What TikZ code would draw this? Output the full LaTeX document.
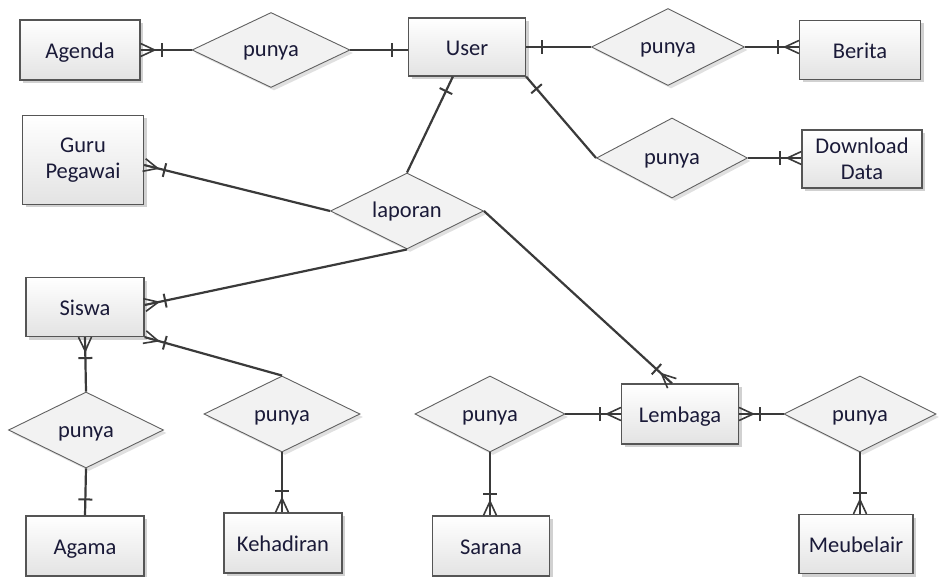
\documentclass[tikz,border=0pt]{standalone}
\usepackage{fontspec}
\setmainfont{Carlito}
\usetikzlibrary{shapes.geometric,shadows,decorations.markings}
\definecolor{edgecol}{HTML}{3A3A3A}
\definecolor{boxline}{HTML}{555555}
\definecolor{txtcol}{HTML}{1A1A38}
\tikzset{
  entity/.style={draw=boxline, line width=1.2pt, top color=white, bottom color=black!11,
    minimum width=118pt, minimum height=59pt, inner sep=2pt, align=center,
    text=txtcol, font=\fontsize{22.5pt}{26pt}\selectfont, text height=19pt, text depth=2pt,
    drop shadow={shadow xshift=3pt, shadow yshift=-3pt, opacity=.18, fill=black}},
  twolines/.style={text height=, text depth=},
  relation/.style={diamond, draw=black!62, line width=0.9pt, fill=black!5, aspect=2,
    inner sep=0pt, minimum width=153pt, minimum height=76pt,
    text=txtcol, font=\fontsize{22.5pt}{26pt}\selectfont, text height=17pt, text depth=3pt,
    drop shadow={shadow xshift=3pt, shadow yshift=-3pt, opacity=.12, fill=black}},
  erline/.style={draw=edgecol, line width=2.2pt},
  notch/.style={draw=edgecol, line width=2pt},
  onestart/.style={postaction={decorate, decoration={markings,
    mark=at position 0 with {\draw[notch] (16pt,-7pt) -- (16pt,7pt);}}}},
  oneend/.style={postaction={decorate, decoration={markings,
    mark=at position 1 with {\draw[notch] (-16pt,-7pt) -- (-16pt,7pt);}}}},
  manystart/.style={postaction={decorate, decoration={markings,
    mark=at position 0 with {\draw[notch, line width=1.6pt] (14pt,0) -- (0,6.5pt) (14pt,0) -- (0,-6.5pt);
      \draw[notch] (21pt,-7pt) -- (21pt,7pt);}}}},
  manyend/.style={postaction={decorate, decoration={markings,
    mark=at position 1 with {\draw[notch, line width=1.6pt] (-14pt,0) -- (0,6.5pt) (-14pt,0) -- (0,-6.5pt);
      \draw[notch] (-21pt,-7pt) -- (-21pt,7pt);}}}},
}
\begin{document}
\begin{tikzpicture}[x=1pt, y=-1pt]
\useasboundingbox[fill=white] (0,0) rectangle (939,577);

% entities
\node[entity, minimum width=120pt, minimum height=60pt] (agenda) at (80,50) {Agenda};
\node[entity, minimum width=117pt, minimum height=58pt] (user) at (467,47) {User};
\node[entity, minimum width=121pt] (berita) at (860,50) {Berita};
\node[entity, twolines, minimum width=120pt, minimum height=58pt] (download) at (862,159) {Download\\Data};
\node[entity, twolines, minimum width=121pt, minimum height=89pt] (guru) at (83,160) {Guru\\Pegawai};
\node[entity] (siswa) at (85,307) {Siswa};
\node[entity, minimum height=60pt] (agama) at (85,546) {Agama};
\node[entity, minimum height=60pt] (kehadiran) at (283,543) {Kehadiran};
\node[entity, minimum width=117pt, minimum height=60pt] (lembaga) at (680,414) {Lembaga};
\node[entity, minimum width=117pt, minimum height=60pt] (sarana) at (491,546) {Sarana};
\node[entity, minimum width=114pt] (meubelair) at (856,544) {Meubelair};

% relationships
\node[relation, minimum width=158pt, minimum height=75pt] (r1) at (271,50) {punya};
\node[relation, minimum height=77pt] (r2) at (668,47) {punya};
\node[relation, minimum width=151pt, minimum height=80pt] (r3) at (672,158) {punya};
\node[relation] (lap) at (407,211) {laporan};
\node[relation, minimum width=155pt] (ra) at (86,430) {punya};
\node[relation, minimum width=156pt] (rk) at (282,414) {punya};
\node[relation, minimum width=150pt] (rs) at (490,414) {punya};
\node[relation, minimum width=152pt] (rm) at (860,414) {punya};

% connectors
\draw[erline, manystart] (agenda.east) -- (r1.west);
\draw[erline, oneend] (r1.east) -- (r1.east -| user.west);
\draw[erline, onestart] (user.east) -- (r2.west);
\draw[erline, manyend] (r2.east) -- (r2.east -| berita.west);
\draw[erline, onestart] (user.south east) -- (r3.west);
\draw[erline, manyend] (r3.east) -- (r3.east -| download.west);
\draw[erline, manystart] ([yshift=-5pt]guru.east) -- (lap.west);
\draw[erline, oneend] (lap.north) -- (user);
\draw[erline, manyend] (lap.south) -- ([yshift=2pt]siswa.east);
\draw[erline, manyend] (lap.east) -- ([xshift=-8pt]lembaga.north);
\draw[erline, manystart] (siswa.south) -- (ra.north);
\draw[erline, oneend] (ra.south) -- (agama.north);
\draw[erline, manystart] (siswa.south east) -- (rk.north);
\draw[erline, manyend] (rk.south) -- (rk.south |- kehadiran.north);
\draw[erline, manyend] (rs.east) -- (rs.east -| lembaga.west);
\draw[erline, manyend] (rs.south) -- (rs.south |- sarana.north);
\draw[erline, manystart] (lembaga.east) -- (lembaga.east -| rm.west);
\draw[erline, manyend] (rm.south) -- (rm.south |- meubelair.north);
\end{tikzpicture}
\end{document}
